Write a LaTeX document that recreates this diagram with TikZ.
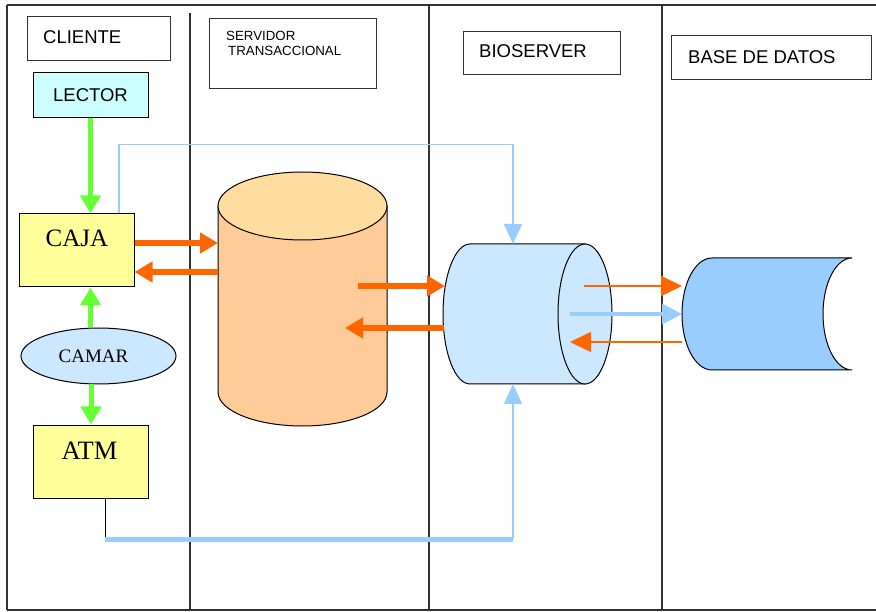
\documentclass[tikz,border=0pt]{standalone}
\usepackage{fontspec}
\setmainfont{Liberation Serif}
\setsansfont{Liberation Sans}
\usepackage{tikz}
\usetikzlibrary{arrows.meta,positioning,shapes.geometric}
\definecolor{cajaYellow}{HTML}{FFFF99}
\definecolor{lectorCyan}{HTML}{CCFFFF}
\definecolor{camarBlue}{HTML}{CCE8FF}
\definecolor{dbBlue}{HTML}{99CCFF}
\definecolor{linkBlue}{HTML}{99CCFF}
\definecolor{flowOrange}{HTML}{FF6600}
\definecolor{flowGreen}{HTML}{66FF33}
\definecolor{tsBodyFill}{HTML}{FFCC99}
\definecolor{tsTopFill}{HTML}{FFDDA0}
\definecolor{laneGray}{HTML}{333333}

\tikzset{
  lane/.style={draw=laneGray, line width=1.5},
  hdrbox/.style={draw=laneGray, line width=1, inner sep=0},
  hdrtxt/.style={font=\sffamily\fontsize{18.5}{20}\selectfont, inner sep=0, anchor=west},
  unitbox/.style={draw, line width=1, fill=cajaYellow, inner sep=0, minimum width=115, minimum height=73},
  unittxt/.style={font=\fontsize{25}{27}\selectfont, inner sep=0},
  feed/.style={flowGreen, line width=5, -{Triangle[length=18pt,width=20pt]}},
  txn/.style={flowOrange, line width=5.5, -{Triangle[length=18pt,width=20pt]}},
  txnthin/.style={flowOrange, line width=1.8, -{Triangle[length=21pt,width=20pt]}},
  link/.style={linkBlue, line width=1.5, -{Triangle[length=20pt,width=18pt]}},
  linkmid/.style={linkBlue, line width=4, -{Triangle[length=20pt,width=20pt]}},
  linkwide/.style={linkBlue, line width=5},
}

\begin{document}
\begin{tikzpicture}[x=1pt,y=-1pt]
  \useasboundingbox (0,0) rectangle (876,612);
  % swim lanes
  \draw[lane] (7,5) -- (876,5);
  \draw[lane] (7,5) -- (7,610);
  \draw[lane] (7,610) -- (876,610);
  \draw[lane] (190,13) -- (190,610);
  \draw[lane] (429,5) -- (429,610);
  \draw[lane] (662,5) -- (662,610);

  % lane headers
  \node[hdrbox, minimum width=143, minimum height=44] (cliente) at (98.5,39) {};
  \node[hdrtxt] (clienteLbl) at (43,37) {CLIENTE};
  \node[hdrbox, minimum width=167, minimum height=70] (servidor) at (292.5,54) {};
  \node[anchor=north west, align=left, inner sep=0, font=\sffamily\fontsize{13.3}{15}\selectfont]
    (servidorLbl) at (226,31.5) {SERVIDOR\\\hspace{2pt}TRANSACCIONAL};
  \node[hdrbox, minimum width=157, minimum height=43] (bioserver) at (541.5,53.5) {};
  \node[hdrtxt] (bioserverLbl) at (479,51.5) {BIOSERVER};
  \node[hdrbox, minimum width=200, minimum height=44] (basedatos) at (771,58) {};
  \node[hdrtxt] (basedatosLbl) at (688,57) {BASE DE DATOS};

  % client side
  \node[draw, line width=1, fill=lectorCyan, minimum width=115, minimum height=45, inner sep=0,
    font=\sffamily\fontsize{18.5}{20}\selectfont] (lector) at (90.5,95.5) {LECTOR};
  \node[unitbox] (caja) at (76.5,250.5) {};
  \node[unittxt] (cajaLbl) at (77,238) {CAJA};
  \node[ellipse, draw, line width=1, fill=camarBlue, minimum width=155, minimum height=56, inner sep=0,
    font=\fontsize{19}{21}\selectfont] (camar) at (98.5,356) {CAMAR\hspace*{10pt}};
  \node[unitbox] (atm) at (91,461.5) {};
  \node[unittxt, font=\fontsize{26.5}{28}\selectfont] (atmLbl) at (89.5,450.5) {ATM};

  % transactional server
  \filldraw[fill=tsBodyFill, line width=1] (218,206) -- (218,392)
    arc[start angle=180, end angle=0, x radius=84.5, y radius=34] -- (387,206) -- cycle;
  \filldraw[fill=tsTopFill, line width=1] (302.5,206) ellipse [x radius=84.5, y radius=34];
  \coordinate (tsInA) at (218,243);
  \coordinate (tsOutA) at (218,272);
  \coordinate (tsOutB) at (358,286);
  \coordinate (tsInB) at (345,328);

  % bioserver
  \filldraw[fill=camarBlue, line width=1] (585,244) -- (470,244)
    arc[start angle=270, end angle=90, x radius=27, y radius=70] -- (585,384) -- cycle;
  \filldraw[fill=camarBlue, line width=1] (585,314) ellipse [x radius=27, y radius=70];
  \coordinate (bioInA) at (445,286);
  \coordinate (bioOutA) at (444,328);
  \coordinate (bioTop) at (513,244);
  \coordinate (bioBot) at (513,384);
  \coordinate (bioOutB) at (584,286);
  \coordinate (bioOutC) at (570,314);
  \coordinate (bioInC) at (570,342);

  % database
  \filldraw[fill=dbBlue, line width=1] (852,258) -- (712,258)
    arc[start angle=270, end angle=90, x radius=30, y radius=56] -- (852,370)
    arc[start angle=90, end angle=270, x radius=29, y radius=56] -- cycle;
  \coordinate (dbInA) at (682,286);
  \coordinate (dbInB) at (682,314);
  \coordinate (dbOutC) at (682,342);

  % green feeds
  \draw[feed] (lector.south) -- (lector.south |- caja.north);
  \draw[feed] (camar.north -| lector.south) -- (lector.south |- caja.south);
  \draw[feed] (camar.south -| atm.north) -- (atm.north);

  % orange transactions
  \draw[txn] (caja.east |- tsInA) -- (tsInA);
  \draw[txn] (tsOutA) -- (caja.east |- tsOutA);
  \draw[txn] (tsOutB) -- (bioInA);
  \draw[txn] (bioOutA) -- (tsInB);
  \draw[txnthin] (bioOutB) -- (dbInA);
  \draw[linkmid] (bioOutC) -- (dbInB);
  \draw[txnthin] (dbOutC) -- (bioInC);

  % blue links to bioserver
  \coordinate (atmBend) at (105,539);
  \coordinate (bioBend) at (513,539);
  \draw[link] ([xshift=42.5pt]caja.north) -- ++(0,-69) -| (bioTop);
  \draw[line width=1] ([xshift=14pt]atm.south) -- (atmBend);
  \draw[linkwide] (atmBend) -- (bioBend);
  \draw[link] (bioBend) -- (bioBot);
\end{tikzpicture}
\end{document}
